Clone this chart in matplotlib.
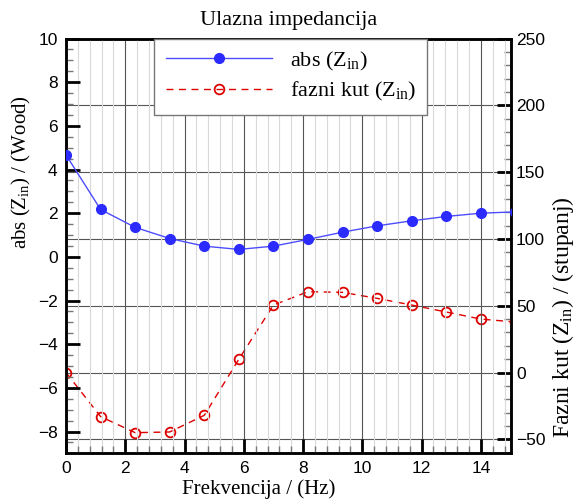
import matplotlib
matplotlib.use('Agg')
import matplotlib.pyplot as plt
from matplotlib.ticker import MultipleLocator

# ---- data ----
freq = [0.0, 1.167, 2.333, 3.5, 4.667, 5.833, 7.0, 8.167, 9.333, 10.5, 11.667, 12.833, 14.0, 15.167]
abs_z = [4.67, 2.17, 1.35, 0.84, 0.49, 0.34, 0.49, 0.80, 1.13, 1.42, 1.65, 1.85, 2.00, 2.06]
phase = [0.0, -33.0, -45.0, -44.5, -32.0, 10.0, 50.5, 60.5, 60.0, 55.5, 50.5, 45.3, 40.0, 37.8]

title = 'Ulazna impedancija'
xlabel = 'Frekvencija / (Hz)'
ylabel_left = r'abs ($\mathrm{Z}_{\mathrm{in}}$) / (Wood)'
ylabel_right = r'Fazni kut ($\mathrm{Z}_{\mathrm{in}}$) / (stupanj)'
legend_labels = [r'abs ($\mathrm{Z}_{\mathrm{in}}$)', r'fazni kut ($\mathrm{Z}_{\mathrm{in}}$)']

plt.rcParams['mathtext.fontset'] = 'custom'
plt.rcParams['mathtext.rm'] = 'Liberation Serif'
plt.rcParams['mathtext.it'] = 'Liberation Serif:italic'

sans = 'Liberation Sans'

fig = plt.figure(figsize=(5.81, 5.04), dpi=100)
ax = fig.add_axes([0.1136, 0.1018, 0.8787 - 0.1136, 0.9236 - 0.1018])
ax2 = ax.twinx()
ax.set_zorder(ax2.get_zorder() + 1)
ax.patch.set_visible(False)

blue = '#2b2bff'
red = '#dd0000'

l1, = ax.plot(freq, abs_z, '-', color='#4d4dff', lw=1.0, marker='o', ms=7,
              mfc=blue, mec=blue, zorder=5)
l2, = ax2.plot(freq, phase, '--', color=red, lw=1.0, dashes=(5, 4), marker='o', ms=7,
               mfc='none', mec=red, mew=1.3, zorder=5)

ax.set_xlim(0, 15)
ax.set_ylim(-8.97, 10)
ax2.set_ylim(-60, 250)

ax.xaxis.set_major_locator(MultipleLocator(2))
ax.xaxis.set_minor_locator(MultipleLocator(0.4))
ax.yaxis.set_major_locator(MultipleLocator(2))
ax.yaxis.set_minor_locator(MultipleLocator(0.5))
ax2.yaxis.set_major_locator(MultipleLocator(50))
ax2.yaxis.set_minor_locator(MultipleLocator(10))

ax.grid(axis='x', which='minor', color='#d9d9d9', lw=0.8, zorder=0)
ax.grid(axis='x', which='major', color='#555555', lw=0.8, zorder=0)
ax2.grid(axis='y', which='major', color='#555555', lw=0.8)
ax.set_axisbelow(True)
ax2.set_axisbelow(True)

for a in (ax, ax2):
    for s in a.spines.values():
        s.set_linewidth(1.8)

ax.tick_params(which='major', direction='in', length=10, width=2, labelsize=12.5,
               top=False, right=False, pad=6)
ax.tick_params(which='minor', direction='in', length=5, width=1, color='#777777',
               top=False, right=False)
ax2.tick_params(which='major', direction='in', length=10, width=2, labelsize=12.5, pad=4)
ax2.tick_params(which='minor', direction='in', length=5, width=1, color='#777777')
for lab in ax.get_xticklabels() + ax.get_yticklabels() + ax2.get_yticklabels():
    lab.set_fontfamily(sans)

ax.set_title(title, fontfamily='Liberation Serif', fontsize=16, pad=10)
ax.set_xlabel(xlabel, fontfamily='Liberation Serif', fontsize=15)
ax.xaxis.set_label_coords(0.434, -0.063)
ax.set_ylabel(ylabel_left, fontfamily='Liberation Serif', fontsize=15)
ax.yaxis.set_label_coords(-0.074, 0.678)
ax2.set_ylabel(ylabel_right, fontfamily='Liberation Serif', fontsize=17, rotation=90)
ax2.yaxis.set_label_coords(1.089, 0.328)

leg = ax.legend([l1, l2], legend_labels, loc='upper center', bbox_to_anchor=(0.506, 1.0),
                borderaxespad=0, fancybox=False, framealpha=1, edgecolor='#777777',
                prop={'family': 'Liberation Serif', 'size': 16}, numpoints=1,
                handlelength=4.8, handletextpad=0.8, labelspacing=0.35, borderpad=0.5)
leg.get_frame().set_linewidth(1.0)
leg.set_zorder(20)

fig.savefig('out.png', dpi=100)
